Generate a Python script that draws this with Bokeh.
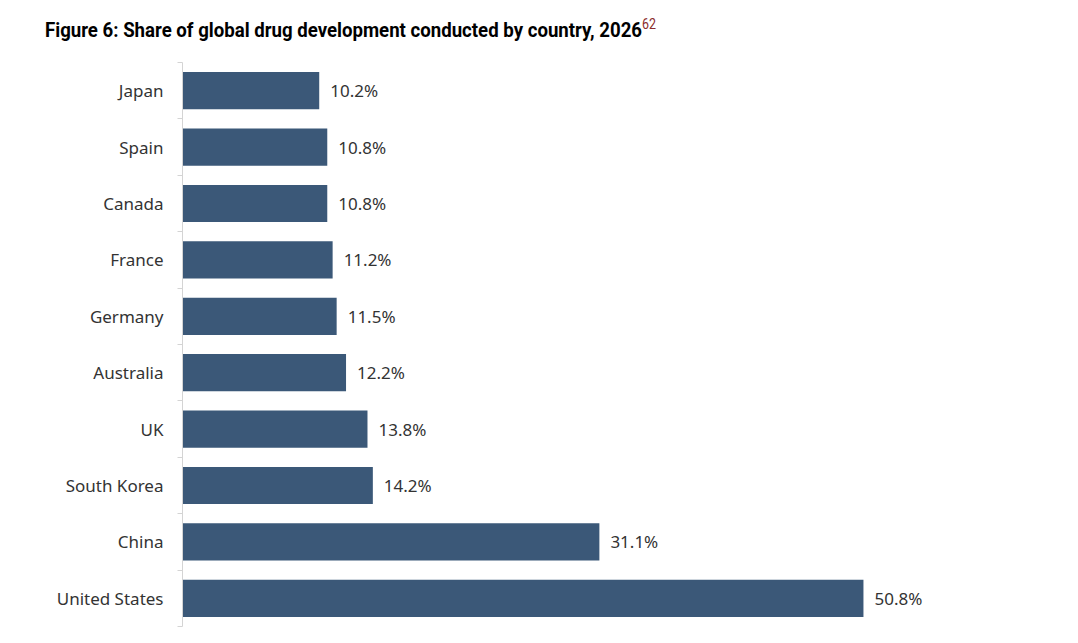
from bokeh.plotting import figure
from bokeh.models import Range1d, FixedTicker, ColumnDataSource, Div
from bokeh.layouts import column
from bokeh.core.properties import value
from bokeh.embed import file_html
from bokeh.resources import INLINE

countries = ["United States", "China", "South Korea", "UK", "Australia",
             "Germany", "France", "Canada", "Spain", "Japan"]
shares = [50.8, 31.1, 14.2, 13.8, 12.2, 11.5, 11.2, 10.8, 10.8, 10.2]
title_text = "Figure 6: Share of global drug development conducted by country, 2026"
footnote = "62"

pos = list(range(len(countries)))
src = ColumnDataSource(dict(
    y=pos, share=shares, label=[f"{v:.1f}%" for v in shares]))

p = figure(width=1078, height=593, output_backend="svg", toolbar_location=None,
           x_range=Range1d(0, 65.5), y_range=Range1d(-0.5, len(countries) - 0.5),
           min_border_left=182, min_border_right=18, min_border_top=12,
           min_border_bottom=17, outline_line_color=None, margin=(0, 0, 0, 0))

p.hbar(y="y", right="share", left=0, height=0.66, source=src,
       fill_color="#3b5878", line_color=None)
p.text(x="share", y="y", text="label", source=src, x_offset=11,
       text_baseline="middle", text_font=value("Noto Sans"),
       text_font_size="17px", text_color="#333333")

p.xaxis.visible = False
p.xgrid.visible = False
p.ygrid.visible = False

ax = p.yaxis[0]
ax.ticker = FixedTicker(ticks=pos, minor_ticks=[i - 0.5 for i in range(len(countries) + 1)])
ax.major_label_overrides = {i: c for i, c in enumerate(countries)}
ax.major_tick_line_color = None
ax.minor_tick_out = 5
ax.minor_tick_in = 0
ax.minor_tick_line_color = "#d4d4d4"
ax.axis_line_color = "#d4d4d4"
ax.major_label_standoff = 13
ax.major_label_text_font = "Noto Sans"
ax.major_label_text_font_size = "17px"
ax.major_label_text_color = "#333333"

div = Div(text=(f'<span style="display:inline-block;transform:scaleX(0.887);transform-origin:left;'
                f'white-space:nowrap;font-family:Roboto;font-weight:bold;'
                f'font-size:21px;color:#000">{title_text}'
                f'<sup style="font-weight:normal;font-size:14px;color:#8b2c2c">{footnote}</sup></span>'),
          width=1078, height=50, margin=(0, 0, 0, 0),
          styles={"padding-top": "14px", "padding-left": "45px"})

layout = column(div, p, spacing=0, margin=(0, 0, 0, 0))
open("out.html", "w").write(file_html(layout, INLINE))
